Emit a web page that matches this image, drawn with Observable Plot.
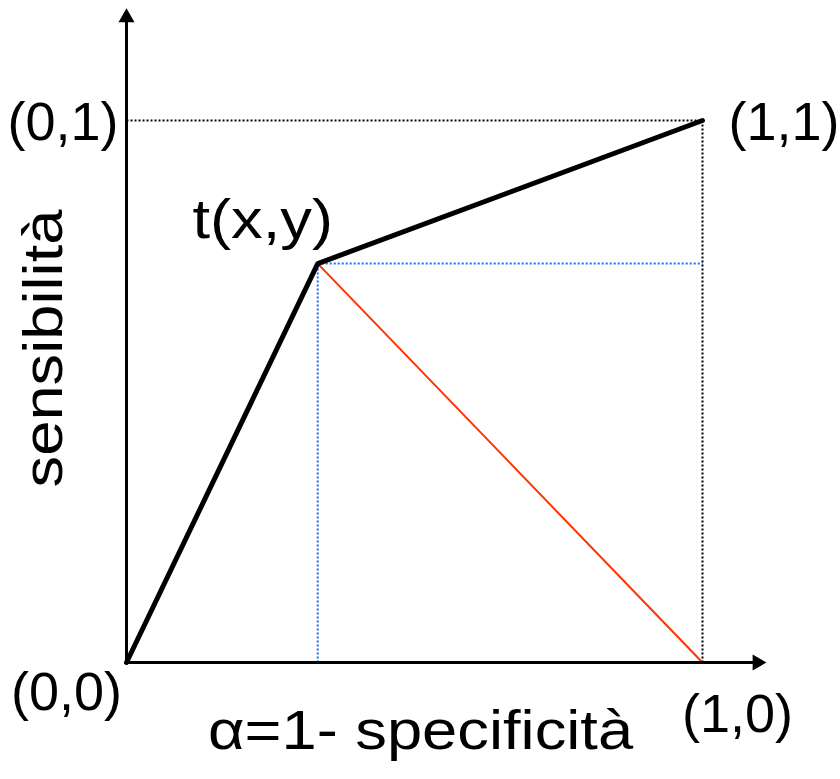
<!DOCTYPE html>
<html>
<head>
<meta charset="utf-8">
<script src="https://cdn.jsdelivr.net/npm/d3@7"></script>
<script src="https://cdn.jsdelivr.net/npm/@observablehq/plot@0.6"></script>
<style>
  html, body { margin: 0; padding: 0; background: #fff; }
  #chart svg { display: block; }
</style>
</head>
<body>
<div id="chart"></div>
<script>
// ROC curve with a single threshold point t(x,y)
const rocX = [0, 0.332, 1];
const rocY = [0, 0.736, 1];
const tPoint = { x: 0.332, y: 0.736, label: "t(x,y)" };

// Corner labels of the unit square
const cornerLabels = ["(0,0)", "(1,0)", "(0,1)", "(1,1)"];
const cornerX = [0, 1, 0, 1];
const cornerY = [0, 0, 1, 1];

// Axis titles and how far the axis arrows reach
const xTitle = "α=1- specificità";
const yTitle = "sensibilità";
const xAxisEnd = 1.095;
const yAxisEnd = 1.19;

const roc = rocX.map((x, i) => ({ x, y: rocY[i] }));
const corners = cornerLabels.map((label, i) => ({ label, x: cornerX[i], y: cornerY[i] }));
const font = "Liberation Sans, Arial, Helvetica, sans-serif";
const cornerSize = 54;
const titleSize = 56;
const widen = 1.13; // point label and axis titles use a slightly expanded face

const corner = (label, opts) => Plot.text(corners.filter(d => d.label === label), {
  x: "x", y: "y", text: "label", fontSize: cornerSize, fill: "#000", ...opts
});

const chart = Plot.plot({
  width: 840,
  height: 779,
  marginLeft: 126,
  marginRight: 138,
  marginTop: 120,
  marginBottom: 117,
  x: { domain: [0, 1], axis: null },
  y: { domain: [0, 1], axis: null },
  style: { fontFamily: font, background: "#fff" },
  marks: [
    // dotted guides from the unit corner
    Plot.link([{ x1: 0, y1: 1, x2: 1, y2: 1 }, { x1: 1, y1: 1, x2: 1, y2: 0 }], {
      x1: "x1", y1: "y1", x2: "x2", y2: "y2",
      stroke: "#000", strokeWidth: 2, strokeDasharray: "2,2"
    }),
    // dotted projections of the threshold point
    Plot.link([
      { x1: tPoint.x, y1: 0, x2: tPoint.x, y2: tPoint.y },
      { x1: tPoint.x, y1: tPoint.y, x2: 1, y2: tPoint.y }
    ], {
      x1: "x1", y1: "y1", x2: "x2", y2: "y2",
      stroke: "#1f6fff", strokeWidth: 2, strokeDasharray: "2,2"
    }),
    // distance from t to the (1,0) corner
    Plot.link([{ x1: tPoint.x, y1: tPoint.y, x2: 1, y2: 0 }], {
      x1: "x1", y1: "y1", x2: "x2", y2: "y2",
      stroke: "#ff3300", strokeWidth: 2
    }),
    // axes with filled arrowheads
    Plot.link([{ x1: 0, y1: 0, x2: xAxisEnd, y2: 0 }, { x1: 0, y1: 0, x2: 0, y2: yAxisEnd }], {
      x1: "x1", y1: "y1", x2: "x2", y2: "y2",
      stroke: "#000", strokeWidth: 3
    }),
    Plot.dot([{ x: xAxisEnd, y: 0, r: 90 }, { x: 0, y: yAxisEnd, r: 0 }], {
      x: "x", y: "y", rotate: "r", symbol: "triangle", r: 5.94,
      fill: "#000", stroke: "none"
    }),
    // ROC polyline
    Plot.line(roc, { x: "x", y: "y", stroke: "#000", strokeWidth: 5, strokeLinejoin: "miter" }),
    // labels
    Plot.text([tPoint], {
      x: "x", y: "y", text: "label", dx: -55, dy: -44,
      fontSize: titleSize, fill: "#000"
    }),
    corner("(0,0)", { dx: -60, dy: 30 }),
    corner("(1,0)", { dx: 35, dy: 52 }),
    corner("(0,1)", { dx: -8, dy: 2, textAnchor: "end" }),
    corner("(1,1)", { dx: 26, dy: 2, textAnchor: "start" }),
    Plot.text([{ label: xTitle }], {
      frameAnchor: "bottom", text: "label", dx: 6, dy: 86, fontSize: titleSize, fill: "#000"
    }),
    Plot.text([{ label: yTitle }], {
      frameAnchor: "left", textAnchor: "middle", text: "label", dx: -82, dy: -43,
      rotate: -90, fontSize: titleSize, fill: "#000"
    })
  ]
});

document.getElementById("chart").appendChild(chart);

// widen the point label and axis titles along their reading direction
const widened = new Set([tPoint.label, xTitle, yTitle]);
chart.querySelectorAll("text").forEach(t => {
  if (!widened.has(t.textContent)) return;
  const len = t.getComputedTextLength();
  t.setAttribute("textLength", (len * widen).toFixed(1));
  t.setAttribute("lengthAdjust", "spacingAndGlyphs");
});
</script>
</body>
</html>
